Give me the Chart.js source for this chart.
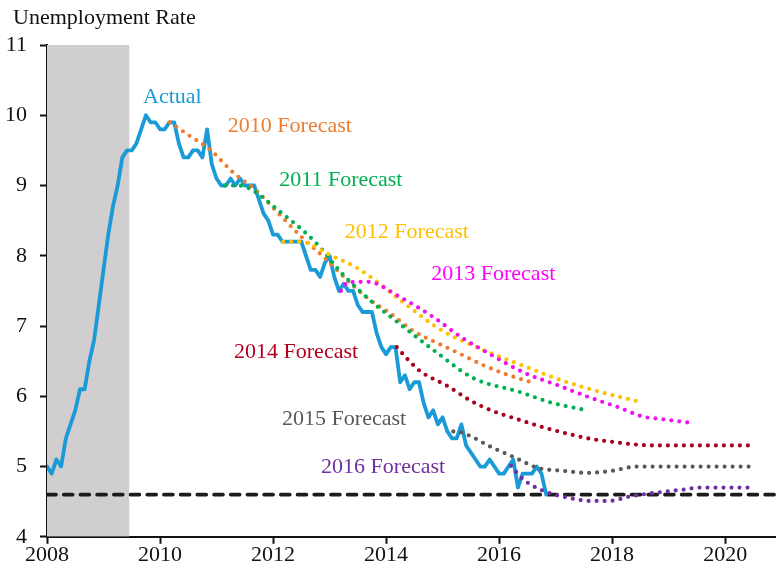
<!DOCTYPE html>
<html>
<head>
<meta charset="utf-8">
<script src="https://cdn.jsdelivr.net/npm/chart.js@4.4.1/dist/chart.umd.min.js"></script>
<style>
html,body{margin:0;padding:0;background:#fff;}
#wrap{width:776px;height:563px;position:relative;}
</style>
</head>
<body>
<div id="wrap"><canvas id="c" width="776" height="563"></canvas></div>
<script>
// ---------- DATA ----------
const startYear = 2008;
// Monthly unemployment rate, Jan 2008 .. Nov 2016
const actualRate = [
  5.0,4.9,5.1,5.0,5.4,5.6,5.8,6.1,6.1,6.5,6.8,7.3,
  7.8,8.3,8.7,9.0,9.4,9.5,9.5,9.6,9.8,10.0,9.9,9.9,
  9.8,9.8,9.9,9.9,9.6,9.4,9.4,9.5,9.5,9.4,9.8,9.3,
  9.1,9.0,9.0,9.1,9.0,9.1,9.0,9.0,9.0,8.8,8.6,8.5,
  8.3,8.3,8.2,8.2,8.2,8.2,8.2,8.0,7.8,7.8,7.7,7.9,
  8.0,7.7,7.5,7.6,7.5,7.5,7.3,7.2,7.2,7.2,6.9,6.7,
  6.6,6.7,6.7,6.2,6.3,6.1,6.2,6.2,5.9,5.7,5.8,5.6,
  5.7,5.5,5.4,5.4,5.6,5.3,5.2,5.1,5.0,5.0,5.1,5.0,
  4.9,4.9,5.0,5.1,4.7,4.9,4.9,4.9,5.0,4.9,4.6
];

const forecast2010Years = [2010.17,2010.5,2010.9,2011.3,2011.7,2012.1,2012.5,2012.9,2013.33,2013.7,2014.04,2014.5,2014.9,2015.27,2015.7,2016.1,2016.53];
const forecast2010Rates = [9.9,9.72,9.5,9.18,8.93,8.6,8.27,7.98,7.64,7.38,7.2,6.92,6.76,6.62,6.45,6.32,6.21];

const forecast2011Years = [2011.15,2011.4,2011.6,2012.09,2012.74,2013.24,2013.77,2014.21,2014.9,2015.54,2016.37,2016.92,2017.49];
const forecast2011Rates = [9.0,9.0,8.95,8.65,8.2,7.73,7.33,7.05,6.62,6.26,6.06,5.91,5.81];

const forecast2012Years = [2012.18,2012.48,2013.01,2013.54,2014.25,2014.96,2015.63,2016.44,2017.13,2017.84,2018.55];
const forecast2012Rates = [8.2,8.2,8.01,7.8,7.37,6.95,6.69,6.43,6.22,6.05,5.91];

const forecast2013Years = [2013.2,2013.32,2013.68,2014.21,2014.83,2015.35,2015.73,2016.46,2017.03,2017.58,2018.12,2018.55,2018.83,2019.42];
const forecast2013Rates = [7.5,7.62,7.63,7.43,7.13,6.83,6.65,6.33,6.16,5.99,5.84,5.71,5.68,5.62];

const forecast2014Years = [2014.19,2014.39,2014.6,2015.1,2015.49,2015.89,2016.3,2016.73,2017.15,2017.58,2018.02,2018.46,2018.76,2020.53];
const forecast2014Rates = [6.7,6.52,6.36,6.14,5.94,5.79,5.68,5.57,5.48,5.4,5.35,5.31,5.3,5.3];

const forecast2015Years = [2015.19,2015.35,2015.88,2016.27,2016.69,2017.12,2017.56,2018.0,2018.44,2018.73,2020.5];
const forecast2015Rates = [5.5,5.48,5.27,5.13,4.98,4.94,4.91,4.94,5.0,5.0,5.0];

const forecast2016Years = [2016.21,2016.41,2016.76,2017.2,2017.63,2017.93,2018.35,2018.8,2019.24,2019.54,2020.42];
const forecast2016Rates = [5.01,4.83,4.66,4.56,4.51,4.51,4.58,4.63,4.67,4.7,4.7];

const naturalRate = 4.6;
const recessionStart = 2008.0;
const recessionEnd = 2009.46;

const xMin = 2008, xMax = 2020.9;
const yMin = 4, yMax = 11;
const xTickValues = [2008,2010,2012,2014,2016,2018,2020];
const yTickValues = [4,5,6,7,8,9,10,11];

const seriesLabels = [
  {text:'Actual',        x:2009.70, y:10.25, color:'#1a9bd7'},
  {text:'2010 Forecast', x:2011.20, y:9.85,  color:'#ED7D31'},
  {text:'2011 Forecast', x:2012.11, y:9.08,  color:'#00B050'},
  {text:'2012 Forecast', x:2013.27, y:8.33,  color:'#FFC000'},
  {text:'2013 Forecast', x:2014.80, y:7.74,  color:'#FF00FF'},
  {text:'2014 Forecast', x:2011.31, y:6.63,  color:'#B0001E'},
  {text:'2015 Forecast', x:2012.16, y:5.68,  color:'#595959'},
  {text:'2016 Forecast', x:2012.85, y:4.99,  color:'#7030A0'}
];

// ---------- BUILD ----------
const pts = (xs, ys) => xs.map((x,i)=>({x:x, y:ys[i]}));
const actualPts = actualRate.map((v,i)=>({x:startYear + i/12, y:v}));

const FONT = '"Liberation Serif", "Times New Roman", serif';

function dotted(data, color){
  return {
    data: data, borderColor: color, backgroundColor: color,
    borderWidth: 4.2, borderDash: [0, 8], borderCapStyle: 'round',
    pointRadius: 0, fill: false, cubicInterpolationMode: 'monotone', order: 1
  };
}

const labelPlugin = {
  id: 'labels',
  afterDatasetsDraw(chart){
    const ctx = chart.ctx, xs = chart.scales.x, ys = chart.scales.y;
    ctx.save();
    ctx.font = '22px ' + FONT;
    ctx.textBaseline = 'middle';
    ctx.textAlign = 'left';
    seriesLabels.forEach(l=>{
      ctx.fillStyle = l.color;
      ctx.fillText(l.text, xs.getPixelForValue(l.x), ys.getPixelForValue(l.y));
    });
    ctx.fillStyle = '#111';
    ctx.fillText('Unemployment Rate', 13, 18);
    ctx.restore();
  }
};

new Chart(document.getElementById('c'), {
  type: 'line',
  data: {
    datasets: [
      dotted(pts(forecast2016Years, forecast2016Rates), '#7030A0'),
      dotted(pts(forecast2015Years, forecast2015Rates), '#595959'),
      dotted(pts(forecast2014Years, forecast2014Rates), '#A8001E'),
      dotted(pts(forecast2013Years, forecast2013Rates), '#F010F0'),
      dotted(pts(forecast2012Years, forecast2012Rates), '#FFC000'),
      dotted(pts(forecast2011Years, forecast2011Rates), '#00B050'),
      dotted(pts(forecast2010Years, forecast2010Rates), '#ED7D31'),
      {
        data: actualPts, borderColor: '#1a9bd7', borderWidth: 3.8,
        borderJoinStyle: 'round', borderCapStyle: 'round',
        pointRadius: 0, tension: 0, fill: false, order: 2
      },
      {
        data: [{x:xMin, y:naturalRate},{x:xMax, y:naturalRate}],
        borderColor: '#1c1c1c', borderWidth: 3.6, borderDash: [9, 7.7], borderCapStyle: 'round',
        pointRadius: 0, fill: false, order: 3
      },
      {
        data: [{x:recessionStart, y:yMax},{x:recessionEnd, y:yMax}],
        borderWidth: 0, borderColor: 'rgba(0,0,0,0)', backgroundColor: '#D0CECE',
        pointRadius: 0, fill: 'start', order: 4
      }
    ]
  },
  options: {
    responsive: false, animation: false,
    layout: { padding: { top: 45, right: 0, left: 0, bottom: 0 } },
    plugins: { legend: {display:false}, tooltip: {enabled:false}, title: {display:false} },
    scales: {
      x: {
        type: 'linear', min: xMin, max: xMax,
        afterFit: s => { s.height = 26; },
        afterBuildTicks: s => { s.ticks = xTickValues.map(v=>({value:v})); },
        ticks: { autoSkip: false, maxRotation: 0, padding: -2, color: '#111', font: {family: FONT, size: 22},
                 callback: v => String(v) },
        grid: { drawOnChartArea: false, drawTicks: true, tickLength: 7, tickWidth: 2, tickColor: '#111' },
        border: { display: true, color: '#111', width: 2 }
      },
      y: {
        type: 'linear', min: yMin, max: yMax,
        afterFit: s => { s.width = 47; },
        afterBuildTicks: s => { s.ticks = yTickValues.map(v=>({value:v})); },
        ticks: { padding: 13, color: '#111', font: {family: FONT, size: 22}, callback: v => String(v) },
        grid: { drawOnChartArea: false, drawTicks: true, tickLength: 7, tickWidth: 2, tickColor: '#111' },
        border: { display: true, color: '#111', width: 2 }
      }
    }
  },
  plugins: [labelPlugin]
});
</script>
</body>
</html>
